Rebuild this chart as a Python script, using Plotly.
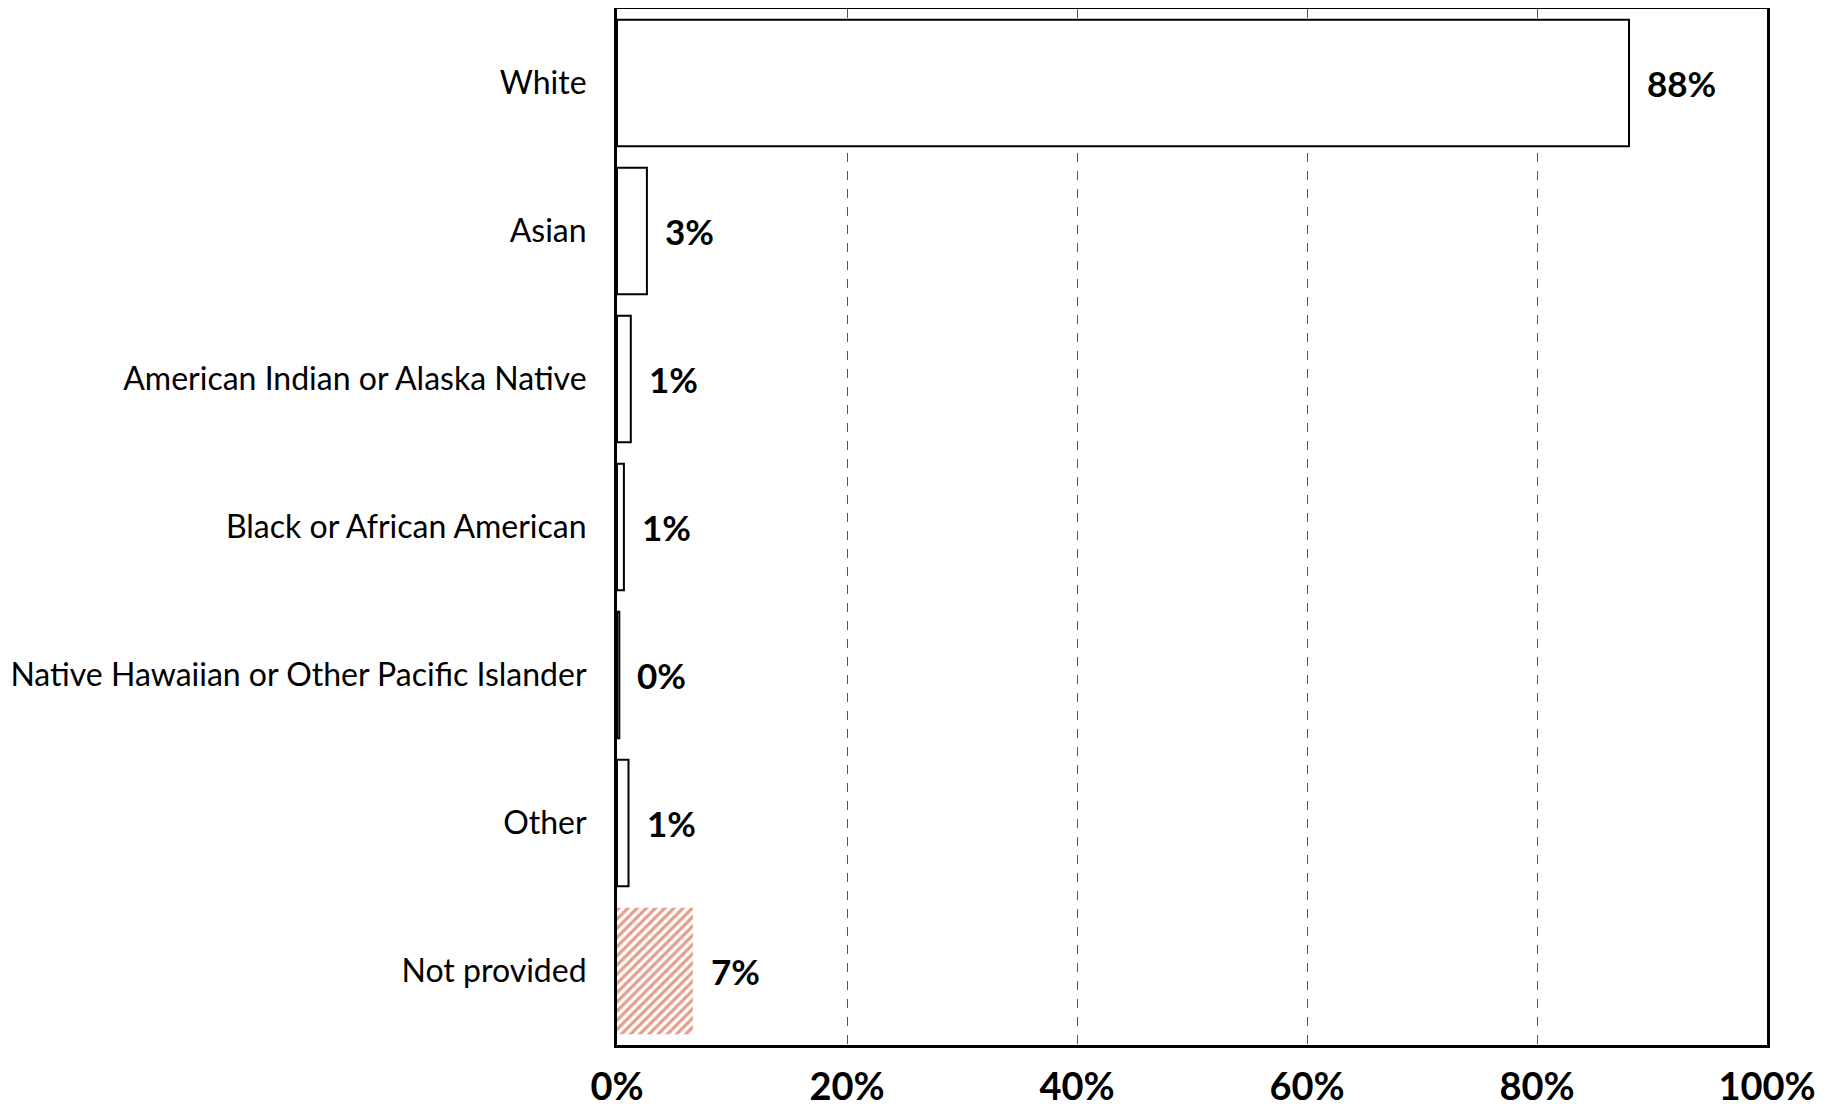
import plotly.graph_objects as go

categories = ["White", "Asian", "American Indian or Alaska Native", "Black or African American",
              "Native Hawaiian or Other Pacific Islander", "Other", "Not provided"]
values = [88.0, 2.6, 1.2, 0.6, 0.2, 1.0, 6.6]
tick_vals = [0, 20, 40, 60, 80, 100]
tick_text = ["0%", "20%", "40%", "60%", "80%", "100%"]

HATCH = "#D13A17"
plain_cats, plain_vals = categories[:-1], values[:-1]
hatch_cats, hatch_vals = categories[-1:], values[-1:]

fig = go.Figure()
fig.add_trace(go.Bar(
    x=plain_vals, y=plain_cats, orientation="h",
    marker=dict(color="white", line=dict(color="black", width=2)),
    hoverinfo="skip",
))
fig.add_trace(go.Bar(
    x=hatch_vals, y=hatch_cats, orientation="h",
    marker=dict(color="white", line=dict(width=0),
                pattern=dict(shape="/", fgcolor=HATCH, bgcolor="white",
                             size=6.5, solidity=0.5)),
    hoverinfo="skip",
))

for c, v in zip(categories, values):
    fig.add_annotation(x=v, y=c, text=f"{v:.0f}%", showarrow=False, xanchor="left",
                       xshift=16, font=dict(family="Lato", size=35, color="black", weight="bold"))

fig.update_layout(
    width=1829, height=1100,
    margin=dict(l=609, r=70, t=1, b=63),
    plot_bgcolor="white", paper_bgcolor="white",
    bargap=0.145, barmode="overlay", showlegend=False,
)
fig.update_xaxes(range=[0, 100], tickvals=tick_vals, ticktext=tick_text, automargin=False,
                 showgrid=True, gridcolor="#555555", griddash="dash", gridwidth=1,
                 showline=True, linecolor="black", linewidth=3, mirror=True,
                 zeroline=False, ticks="", ticklabelstandoff=6,
                 tickfont=dict(family="Lato", size=38, color="black", weight="bold"))
fig.update_yaxes(categoryorder="array", categoryarray=categories, autorange="reversed",
                 automargin=False,
                 showline=True, linecolor="black", linewidth=3, mirror=True,
                 showgrid=False, ticks="", ticklabelstandoff=21,
                 tickfont=dict(family="Lato", size=32, color="black"))

fig.write_html("out.html")
